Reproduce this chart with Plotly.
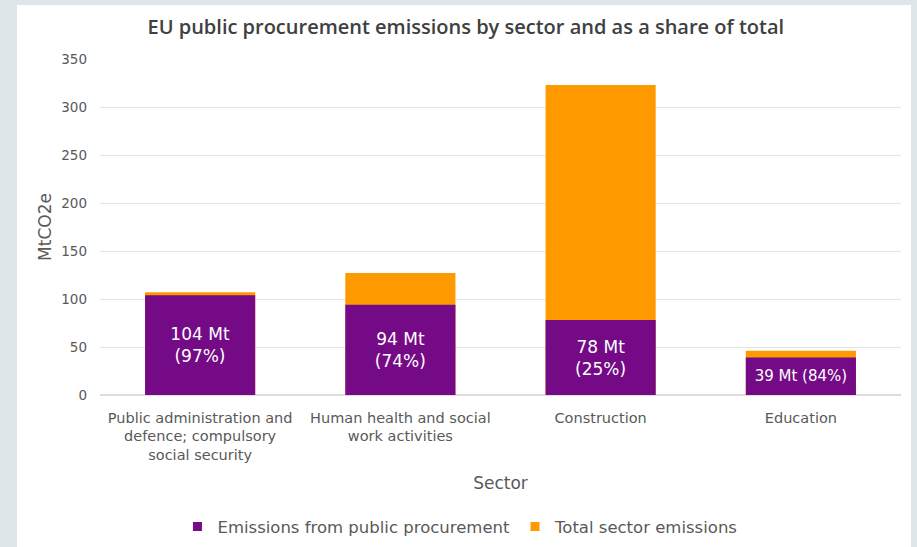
import plotly.graph_objects as go

sectors = [
    "Public administration and<br>defence; compulsory<br>social security",
    "Human health and social<br>work activities",
    "Construction",
    "Education",
]
procurement = [104, 94, 78, 39]
total = [107, 127, 323, 46]
labels = ["104 Mt<br>(97%)", "94 Mt<br>(74%)", "78 Mt<br>(25%)", "39 Mt (84%)"]
label_sizes = [17, 17, 17, 15]
series_names = ["Emissions from public procurement", "Total sector emissions"]

PURPLE = "#740A86"
ORANGE = "#FF9900"
FONT = "DejaVu Sans"

fig = go.Figure()
fig.add_trace(go.Bar(
    x=sectors, y=total, name=series_names[1],
    marker=dict(color=ORANGE, line=dict(width=0)),
    hoverinfo="skip", showlegend=False,
))
fig.add_trace(go.Bar(
    x=sectors, y=procurement, name=series_names[0],
    marker=dict(color=PURPLE, line=dict(width=0)),
    text=labels, textposition="inside", insidetextanchor="middle",
    textfont=dict(color="white", size=label_sizes, family=FONT),
    textangle=0, showlegend=False,
))
# legend entries with small square swatches
for name, col in zip(series_names, [PURPLE, ORANGE]):
    fig.add_trace(go.Scatter(
        x=[None], y=[None], mode="markers", name=name,
        marker=dict(symbol="square", size=9, color=col),
    ))

L, R, T, B = 100, 16, 59, 152
W, H = 917, 547
pw, ph = W - L - R, H - T - B

fig.add_shape(
    type="rect", xref="paper", yref="paper", layer="below",
    x0=(17 - L) / pw, x1=(911 - L) / pw,
    y0=-(H + 5 - T - ph) / ph, y1=(T + ph - 5) / ph,
    fillcolor="white", line=dict(width=0),
)

fig.update_layout(
    width=W, height=H,
    margin=dict(l=L, r=R, t=T, b=B, autoexpand=False),
    barmode="overlay", bargap=0.45,
    paper_bgcolor="#DEE6EA", plot_bgcolor="white",
    font=dict(family=FONT, color="#595959", size=13),
    title=dict(
        text="EU public procurement emissions by sector and as a share of total",
        x=0.508, xanchor="center", y=0.951, yanchor="middle",
        font=dict(family="Open Sans", size=20, color="#404040", weight=600),
    ),
    xaxis=dict(
        title=dict(text="Sector", font=dict(size=17, color="#595959"), standoff=14),
        tickfont=dict(size=14.5, color="#595959"),
        ticklabelstandoff=12, automargin=False,
        showline=False, ticks="",
    ),
    yaxis=dict(
        title=dict(text="MtCO2e", font=dict(size=17, color="#595959"), standoff=5),
        range=[0, 350], dtick=50, tickfont=dict(size=13.5, color="#595959"),
        ticklabelstandoff=12, automargin=False,
        gridcolor="#E3E3E3", gridwidth=1, zeroline=True, zerolinecolor="#DDDDDD",
        ticks="", showline=False,
    ),
    legend=dict(
        orientation="h", x=0.45, xanchor="center", y=-0.392, yanchor="middle",
        font=dict(size=16.5, color="#595959"),
        bgcolor="rgba(0,0,0,0)", itemwidth=30,
    ),
    showlegend=True,
)

fig.write_html("out.html")
